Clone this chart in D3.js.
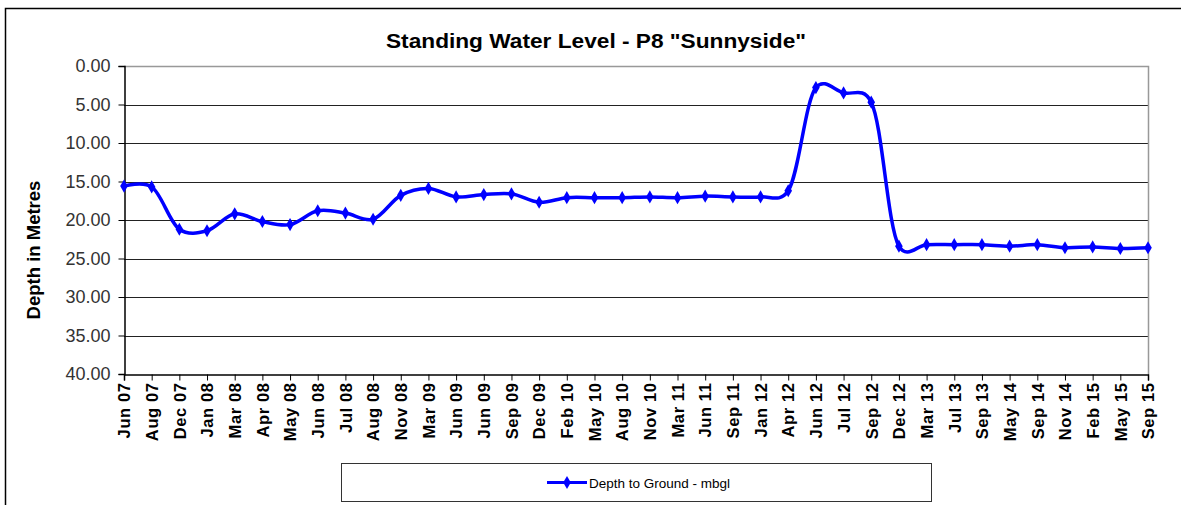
<!DOCTYPE html>
<html>
<head>
<meta charset="utf-8">
<script src="https://cdn.jsdelivr.net/npm/d3@7"></script>
<style>
  html, body { margin: 0; padding: 0; background: #fff; }
  svg { display: block; font-family: Arial, "Liberation Sans", sans-serif; }
</style>
</head>
<body>
<svg id="chart" width="1181" height="505"></svg>
<script>
const categories = ["Jun 07","Aug 07","Dec 07","Jan 08","Mar 08","Apr 08","May 08","Jun 08","Jul 08","Aug 08",
  "Nov 08","Mar 09","Jun 09","Jun 09 ","Sep 09","Dec 09","Feb 10","May 10","Aug 10","Nov 10",
  "Mar 11","Jun 11","Sep 11","Jan 12","Apr 12","Jun 12","Jul 12","Sep 12","Dec 12","Mar 13",
  "Jul 13","Sep 13","May 14","Sep 14","Nov 14","Feb 15","May 15","Sep 15"];
const depthValues = [15.6, 15.7, 21.2, 21.4, 19.2, 20.2, 20.6, 18.8, 19.1, 19.9,
  16.8, 15.9, 17.0, 16.7, 16.6, 17.7, 17.1, 17.1, 17.1, 17.0,
  17.1, 16.9, 17.0, 17.0, 16.2, 2.8, 3.5, 4.7, 23.4, 23.2,
  23.2, 23.2, 23.4, 23.2, 23.6, 23.5, 23.7, 23.6];
const yTicks = [0, 5, 10, 15, 20, 25, 30, 35, 40];
const title = 'Standing Water Level - P8 "Sunnyside"';
const yTitle = "Depth in Metres";
const seriesName = "Depth to Ground - mbgl";

const svg = d3.select("#chart");
const plot = { left: 124, right: 1148, top: 66, bottom: 374 };

// outer chart border (extends beyond right/bottom of the view)
svg.append("rect").attr("x", 5.5).attr("y", 8.5).attr("width", 1200).attr("height", 520)
  .attr("fill", "none").attr("stroke", "#000").attr("stroke-width", 1.5);

const x = d3.scalePoint().domain(d3.range(categories.length)).range([plot.left, plot.right]).padding(0);
const y = d3.scaleLinear().domain([0, 40]).range([plot.top, plot.bottom]);

// gridlines
svg.append("g").selectAll("line").data(yTicks.filter(t => t > 0 && t < 40)).join("line")
  .attr("x1", plot.left).attr("x2", plot.right)
  .attr("y1", d => Math.round(y(d)) + 0.5).attr("y2", d => Math.round(y(d)) + 0.5)
  .attr("stroke", "#222").attr("stroke-width", 1);

// plot area top & right border (gray)
svg.append("path")
  .attr("d", `M${plot.left},${plot.top + 0.5}H${plot.right + 0.5}V${plot.bottom}`)
  .attr("fill", "none").attr("stroke", "#999").attr("stroke-width", 1.5);

// y axis
const yAxis = d3.axisLeft(y).tickValues(yTicks).tickFormat(d3.format(".2f")).tickSize(6).tickPadding(8);
const gy = svg.append("g").attr("transform", `translate(${plot.left + 0.5},0)`).call(yAxis);
gy.select(".domain").attr("stroke", "#000").attr("stroke-width", 1.5);
gy.selectAll(".tick line").attr("stroke", "#000");
gy.selectAll(".tick text").attr("font-size", "18px").attr("fill", "#333")
  .attr("font-family", "Arial, 'Liberation Sans', sans-serif");

// x axis
const xAxis = d3.axisBottom(x).tickFormat(i => categories[i].trim()).tickSize(6).tickPadding(6);
const gx = svg.append("g").attr("transform", `translate(0,${plot.bottom + 0.5})`).call(xAxis);
gx.select(".domain").attr("stroke", "#000").attr("stroke-width", 1.5);
gx.selectAll(".tick line").attr("stroke", "#000");
gx.selectAll(".tick text")
  .attr("font-size", "16.5px").attr("font-weight", "bold").attr("fill", "#000")
  .attr("font-family", "Arial, 'Liberation Sans', sans-serif")
  .attr("letter-spacing", "0.6px")
  .attr("text-anchor", "end").attr("dy", "0.35em")
  .attr("transform", "rotate(-90)")
  .attr("x", -8).attr("y", 0);

// line
const line = d3.line().x((d, i) => x(i)).y(d => y(d)).curve(d3.curveCatmullRom.alpha(0.2));
svg.append("path").datum(depthValues)
  .attr("d", line).attr("fill", "none").attr("stroke", "#0000FF").attr("stroke-width", 3.5)
  .attr("stroke-linejoin", "round");

// markers (diamonds)
const diamond = d3.symbol().type(d3.symbolDiamond).size(50);
svg.append("g").selectAll("path").data(depthValues).join("path")
  .attr("d", diamond)
  .attr("transform", (d, i) => `translate(${x(i)},${y(d)})`)
  .attr("fill", "#0000FF");

// title
svg.append("text").attr("x", 596).attr("y", 48).attr("text-anchor", "middle")
  .attr("font-size", "20px").attr("font-weight", "bold").attr("fill", "#000")
  .attr("textLength", 420).attr("lengthAdjust", "spacingAndGlyphs")
  .text(title);

// y axis title
svg.append("text").attr("transform", "translate(40,250) rotate(-90)").attr("text-anchor", "middle")
  .attr("font-size", "18.5px").attr("font-weight", "bold").attr("fill", "#000")
  .text(yTitle);

// legend
const lg = svg.append("g");
lg.append("rect").attr("x", 341.5).attr("y", 463.5).attr("width", 590).attr("height", 38)
  .attr("fill", "#fff").attr("stroke", "#333").attr("stroke-width", 1);
lg.append("line").attr("x1", 547).attr("x2", 587).attr("y1", 482.5).attr("y2", 482.5)
  .attr("stroke", "#0000FF").attr("stroke-width", 3);
lg.append("path").attr("d", diamond).attr("transform", "translate(567,482.5)").attr("fill", "#0000FF");
lg.append("text").attr("x", 589).attr("y", 487.5).attr("font-size", "13.5px").attr("fill", "#000")
  .text(seriesName);
</script>
</body>
</html>
